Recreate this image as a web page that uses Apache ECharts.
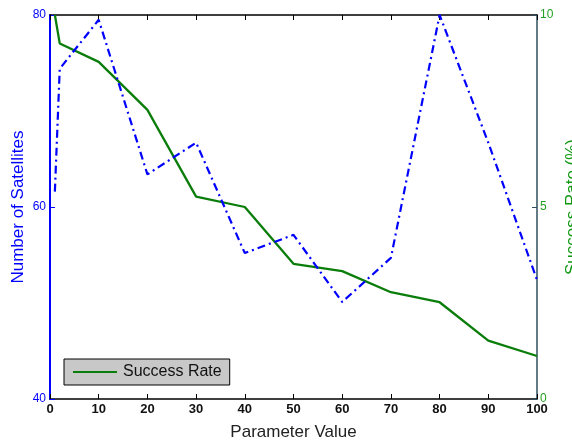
<!DOCTYPE html>
<html>
<head>
<meta charset="utf-8">
<script src="https://cdn.jsdelivr.net/npm/echarts@6/dist/echarts.min.js"></script>
<style>html,body{margin:0;padding:0;background:#fff;}#chart{width:572px;height:441px;}</style>
</head>
<body>
<div id="chart"></div>
<script>
var paramValues = [1, 2, 10, 20, 30, 40, 50, 60, 70, 80, 90, 100];
var satellites = [61.6, 74.4, 79.5, 63.4, 66.7, 55.2, 57.1, 50.1, 54.7, 80, 66.7, 52.4];
var successRate = [10, 9.26, 8.78, 7.53, 5.27, 5.0, 3.52, 3.33, 2.78, 2.52, 1.52, 1.12];
var xTicks = [0, 10, 20, 30, 40, 50, 60, 70, 80, 90, 100];
var leftTicks = [40, 60, 80];
var rightTicks = [0, 5, 10];

function pairs(xs, ys) { return xs.map(function (x, i) { return [x, ys[i]]; }); }

var chart = echarts.init(document.getElementById('chart'), null, {renderer: 'canvas'});
var font = 'Liberation Sans, Arial, sans-serif';
chart.setOption({
  animation: false,
  backgroundColor: '#ffffff',
  grid: {left: 50, right: 35, top: 15, bottom: 42, containLabel: false, outerBoundsMode: 'none'},
  legend: {
    data: [{name: 'Success Rate', icon: 'rect', itemStyle: {color: '#0a7d0a'}}],
    left: 64, top: 359,
    backgroundColor: '#c8c8c8',
    borderColor: '#000000', borderWidth: 1,
    padding: [5, 8, 5, 9],
    itemWidth: 44, itemHeight: 2, itemGap: 5,
    textStyle: {fontFamily: font, fontSize: 16, color: '#111', padding: [0, 0, 0, 1]}
  },
  xAxis: [{
    type: 'value', min: xTicks[0], max: xTicks[xTicks.length - 1], interval: 10,
    name: 'Parameter Value', nameLocation: 'middle', nameGap: 25,
    nameTextStyle: {fontFamily: font, fontSize: 17, color: '#222'},
    axisLine: {show: true, onZero: false, lineStyle: {color: '#000', width: 1.5}},
    axisTick: {show: true, inside: true, length: 5, lineStyle: {color: '#000'}},
    axisLabel: {fontFamily: font, fontSize: 13, fontWeight: 'bold', color: '#111', margin: 4},
    splitLine: {show: false}
  }, {
    type: 'value', position: 'top', min: 0, max: 100, interval: 10,
    axisLine: {show: true, onZero: false, lineStyle: {color: '#000', width: 1.5}},
    axisTick: {show: true, inside: true, length: 5, lineStyle: {color: '#000'}},
    axisLabel: {show: false}, splitLine: {show: false}
  }],
  yAxis: [{
    type: 'value', position: 'left', min: leftTicks[0], max: leftTicks[leftTicks.length - 1], interval: 20,
    name: 'Number of Satellites', nameLocation: 'middle', nameGap: 23, nameMoveOverlap: false,
    nameTextStyle: {fontFamily: font, fontSize: 17, color: '#0000ff'},
    axisLine: {show: true, onZero: false, lineStyle: {color: '#0000ff', width: 2}},
    axisTick: {show: true, inside: true, length: 5, lineStyle: {color: '#0000ff'}},
    axisLabel: {fontFamily: font, fontSize: 12, color: '#0000ff', margin: 4},
    splitLine: {show: false}
  }, {
    type: 'value', position: 'right', min: rightTicks[0], max: rightTicks[rightTicks.length - 1], interval: 5,
    name: 'Success Rate (%)', nameLocation: 'middle', nameGap: 21, nameRotate: 90,
    nameTextStyle: {fontFamily: font, fontSize: 17, color: '#119911'},
    axisLine: {show: true, onZero: false, lineStyle: {color: '#2f4f5f', width: 1.5}},
    axisTick: {show: true, inside: true, length: 5, lineStyle: {color: '#2f4f5f'}},
    axisLabel: {fontFamily: font, fontSize: 12, color: '#22a022', margin: 3},
    splitLine: {show: false}
  }],
  series: [{
    name: 'Number of Satellites', type: 'line', xAxisIndex: 0, yAxisIndex: 0,
    data: pairs(paramValues, satellites), symbol: 'none', clip: true,
    lineStyle: {color: '#0000ff', width: 2.2, type: [8, 4, 2, 4]},
    itemStyle: {color: '#0000ff'}, z: 3
  }, {
    name: 'Success Rate', type: 'line', xAxisIndex: 0, yAxisIndex: 1,
    data: pairs(paramValues, successRate), symbol: 'none', clip: true,
    lineStyle: {color: '#0a7d0a', width: 2.3},
    itemStyle: {color: '#0a7d0a'}, z: 2
  }]
});
</script>
</body>
</html>
